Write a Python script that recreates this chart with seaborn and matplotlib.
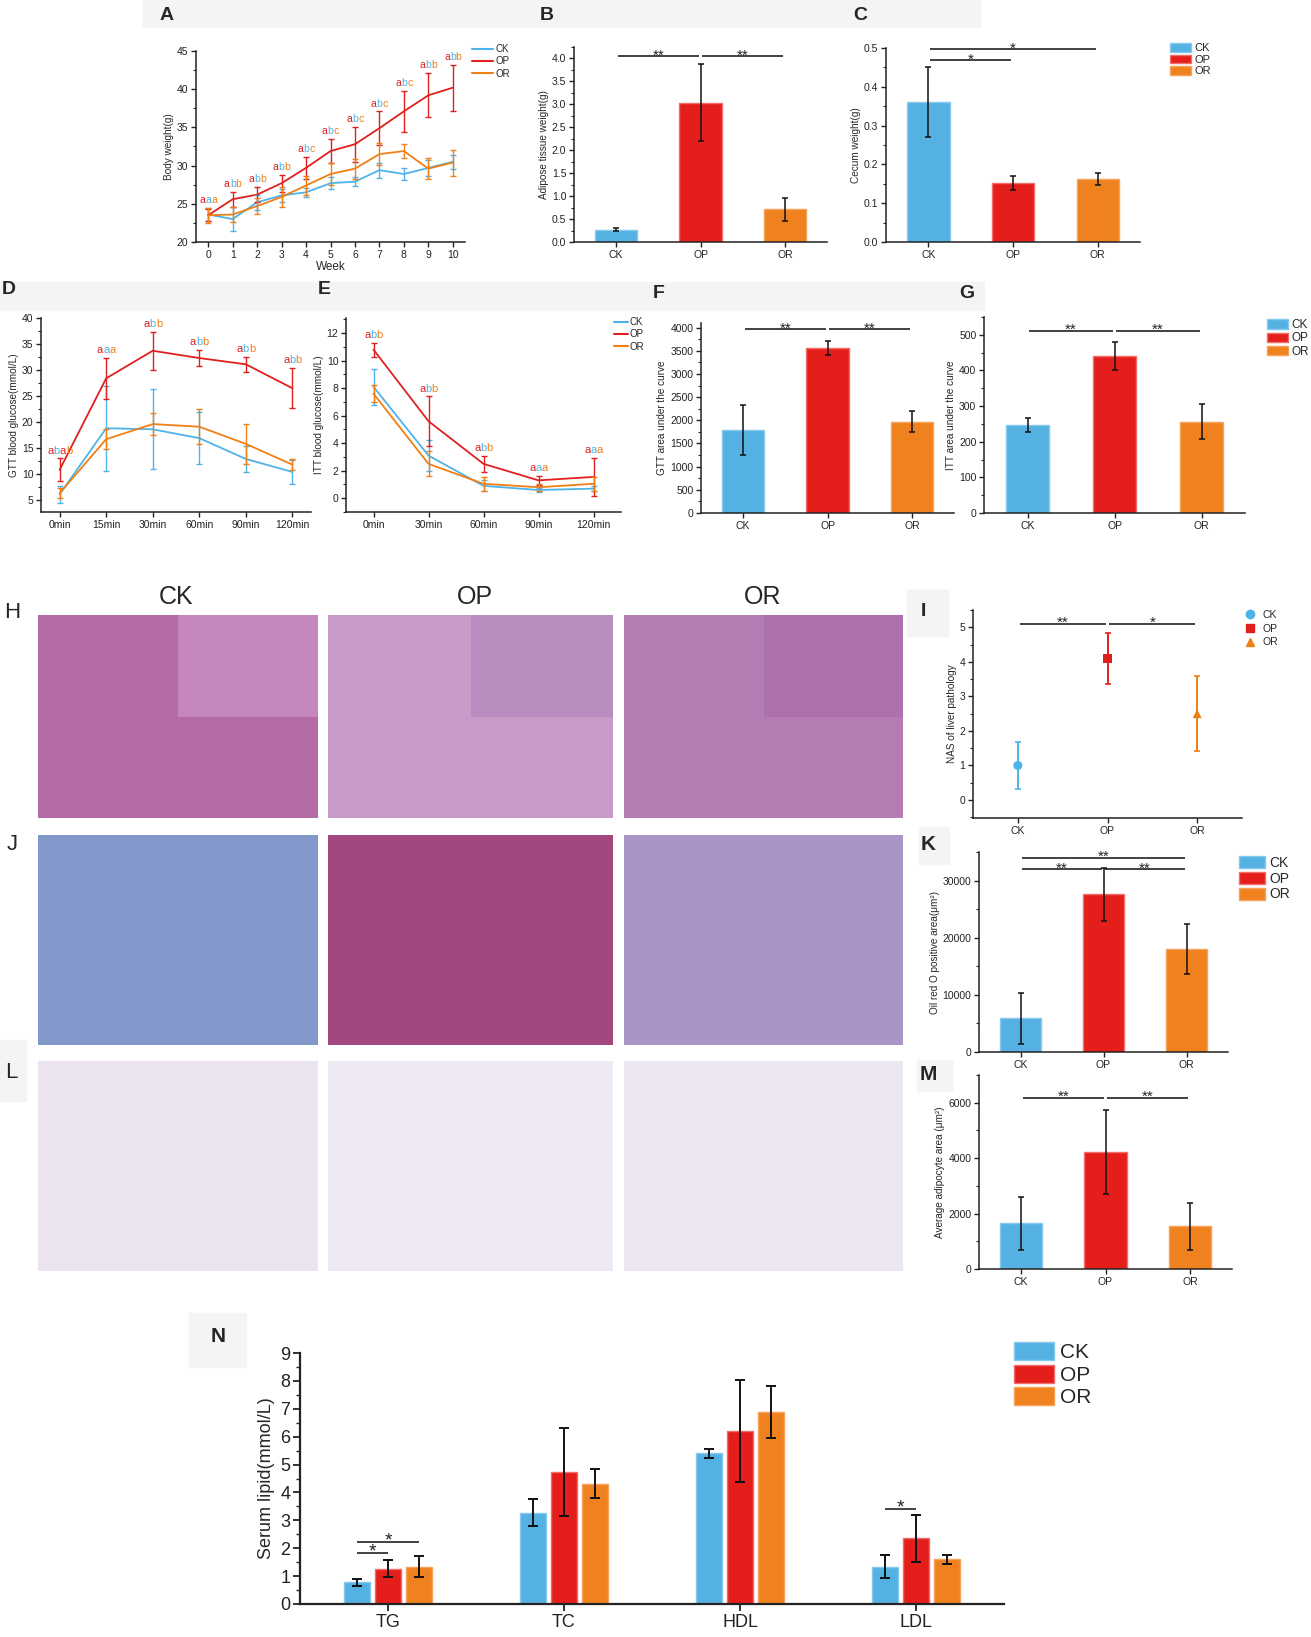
import matplotlib
matplotlib.use('Agg')
import matplotlib.pyplot as plt
import pandas as pd
import seaborn as sns
from matplotlib.lines import Line2D
from matplotlib.patches import Patch, Rectangle
from matplotlib.ticker import MultipleLocator
from matplotlib.transforms import offset_copy

W, H = 1311, 1637

# ---------------- data ----------------
groups = ['CK', 'OP', 'OR']

# A  body weight
weeks = [0, 1, 2, 3, 4, 5, 6, 7, 8, 9, 10]
bw_ck = [23.6, 23.0, 25.2, 26.1, 26.5, 27.7, 27.9, 29.4, 28.9, 29.7, 30.5]
bw_ck_err = [0.9, 1.6, 1.0, 0.8, 0.6, 0.8, 0.6, 1.0, 0.8, 1.0, 0.9]
bw_op = [23.5, 25.6, 26.2, 27.7, 29.7, 31.9, 32.8, 34.9, 37.1, 39.2, 40.2]
bw_op_err = [0.8, 1.0, 1.0, 1.1, 1.4, 1.6, 2.3, 2.2, 2.7, 2.9, 3.0]
bw_or = [23.5, 23.6, 24.7, 25.9, 27.4, 28.9, 29.6, 31.5, 31.9, 29.6, 30.4]
bw_or_err = [1.0, 1.0, 1.0, 1.3, 1.3, 1.5, 1.3, 1.4, 0.9, 1.4, 1.7]
bw_letters = ['aaa', 'abb', 'abb', 'abb', 'abc', 'abc', 'abc', 'abc', 'abc', 'abb', 'abb']

# B adipose tissue weight, C cecum weight
adipose = [0.27, 3.04, 0.71]
adipose_err = [0.04, 0.84, 0.25]
cecum = [0.361, 0.153, 0.163]
cecum_err = [0.090, 0.018, 0.016]

# D  GTT
gtt_times = ['0min', '15min', '30min', '60min', '90min', '120min']
gtt_ck = [6.1, 18.8, 18.6, 16.9, 12.9, 10.4]
gtt_ck_err = [1.65, 8.2, 7.7, 4.95, 2.5, 2.3]
gtt_op = [10.8, 28.4, 33.7, 32.3, 31.1, 26.5]
gtt_op_err = [2.2, 4.0, 3.7, 1.6, 1.45, 3.9]
gtt_or = [6.3, 16.7, 19.6, 19.1, 15.8, 11.8]
gtt_or_err = [0.95, 1.95, 2.1, 3.4, 3.85, 1.0]
gtt_letters = ['abab', 'aaa', 'abb', 'abb', 'abb', 'abb']

# E  ITT
itt_times = ['0min', '30min', '60min', '90min', '120min']
itt_ck = [8.1, 3.1, 0.9, 0.6, 0.7]
itt_ck_err = [1.3, 1.1, 0.4, 0.15, 0.2]
itt_op = [10.8, 5.6, 2.5, 1.3, 1.55]
itt_op_err = [0.5, 1.8, 0.6, 0.35, 1.38]
itt_or = [7.6, 2.5, 1.05, 0.8, 1.05]
itt_or_err = [0.6, 0.9, 0.5, 0.25, 0.5]
itt_letters = ['abb', 'abb', 'abb', 'aaa', 'aaa']

# F, G  area under the curve
gtt_auc = [1790, 3560, 1970]
gtt_auc_err = [530, 160, 225]
itt_auc = [246, 441, 256]
itt_auc_err = [20, 40, 49]

# I  NAS score, K oil red O area, M adipocyte area
nas = [1.0, 4.1, 2.5]
nas_err = [0.67, 0.73, 1.08]
oro_area = [5900, 27600, 18000]
oro_area_err = [4500, 4600, 4400]
adipocyte = [1650, 4230, 1540]
adipocyte_err = [950, 1510, 840]

# N  serum lipids
lipids = ['TG', 'TC', 'HDL', 'LDL']
lipid_ck = [0.78, 3.28, 5.40, 1.34]
lipid_ck_err = [0.12, 0.47, 0.15, 0.40]
lipid_op = [1.26, 4.73, 6.21, 2.36]
lipid_op_err = [0.30, 1.57, 1.82, 0.84]
lipid_or = [1.34, 4.32, 6.90, 1.60]
lipid_or_err = [0.38, 0.52, 0.93, 0.16]

# significance marks: (group a, group b, height, label)
sig_adipose = [('CK', 'OP', 4.05, '**'), ('OP', 'OR', 4.05, '**')]
sig_cecum = [('CK', 'OR', 0.497, '*'), ('CK', 'OP', 0.468, '*')]
sig_gtt_auc = [('CK', 'OP', 3960, '**'), ('OP', 'OR', 3960, '**')]
sig_itt_auc = [('CK', 'OP', 512, '**'), ('OP', 'OR', 512, '**')]
sig_nas = [('CK', 'OP', 5.1, '**'), ('OP', 'OR', 5.1, '*')]
sig_oro = [('CK', 'OR', 34000, '**'), ('CK', 'OP', 32000, '**'), ('OP', 'OR', 32000, '**')]
sig_adipocyte = [('CK', 'OP', 6180, '**'), ('OP', 'OR', 6180, '**')]
sig_lipid = [('TG', 'CK', 'OP', 1.83, '*'), ('TG', 'CK', 'OR', 2.24, '*'), ('LDL', 'CK', 'OP', 3.41, '*')]

# ---------------- style ----------------
line_colors = {'CK': '#4db3e8', 'OP': '#e0201f', 'OR': '#f07f15'}
bar_colors = {'CK': '#56b1e3', 'OP': '#e41f1b', 'OR': '#ef821e'}
bar_edges = {'CK': '#86c9ef', 'OP': '#f26d6a', 'OR': '#f5a35a'}
letter_cols3 = ['#e0201f', '#4db3e8', '#f07f15']
letter_cols4 = ['#e0201f', '#4db3e8', '#e0201f', '#f07f15']
stain_he = ['#b46aa7', '#c79ac8', '#b47cb2']
stain_he_inset = ['#c386bd', '#b98dc0', '#ac70ad']
stain_oro = ['#8398cb', '#a3477f', '#a995c5']
stain_adipo = ['#ebe3ef', '#efe9f3', '#ede7f2']
label_bg = '#f4f4f4'
narrow = ['Liberation Sans Narrow', 'Liberation Sans', 'DejaVu Sans']

sns.set_style('ticks')
plt.rcParams['font.family'] = ['Liberation Sans', 'DejaVu Sans']
plt.rcParams['axes.linewidth'] = 1.1
plt.rcParams['axes.edgecolor'] = '#222222'

fig = plt.figure(figsize=(W / 100, H / 100), dpi=100)
fig.patch.set_facecolor('white')


def px_axes(l, t, r, b):
    return fig.add_axes([l / W, 1 - b / H, (r - l) / W, (b - t) / H])


def bg_box(l, t, r, b):
    fig.add_artist(Rectangle((l / W, 1 - b / H), (r - l) / W, (b - t) / H,
                             transform=fig.transFigure, color=label_bg, zorder=0))


def panel_letter(x, y, s, size=14, weight='bold', family=None):
    fig.text(x / W, 1 - y / H, s, ha='center', va='center', fontsize=size,
             fontweight=weight, family=family or plt.rcParams['font.family'])


def finish(ax, ylim, major, minor, ylabel, fs=7.5, xlim=None):
    ax.set_ylim(*ylim)
    if xlim:
        ax.set_xlim(*xlim)
    ax.yaxis.set_major_locator(MultipleLocator(major))
    ax.yaxis.set_minor_locator(MultipleLocator(minor))
    ax.tick_params(axis='both', which='major', direction='out', length=3.5, width=1,
                   labelsize=fs, colors='#222222', pad=2)
    ax.tick_params(axis='y', which='minor', direction='out', length=2, width=0.8)
    sns.despine(ax=ax)
    ax.set_ylabel(ylabel, fontsize=fs - 0.3, labelpad=2)
    ax.set_xlabel('')


def sig_line(ax, x0, x1, y, label, fs=11, shrink=0.02):
    ax.plot([x0 + shrink, x1 - shrink], [y, y], color='#333333', lw=1.3,
            solid_capstyle='butt', clip_on=False)
    tr = offset_copy(ax.transData, fig=fig, x=0, y=0.5, units='points')
    ax.text((x0 + x1) / 2, y, label, ha='center', va='center', fontsize=fs,
            color='#222222', transform=tr, clip_on=False)


def bar_panel(ax, means, errs, sigs, sig_fs=11):
    df = pd.DataFrame({'group': groups, 'value': means})
    sns.barplot(data=df, x='group', y='value', hue='group', palette=bar_colors,
                width=0.5, saturation=1, errorbar=None, legend=False, ax=ax)
    centers = {}
    for cont, g in zip(ax.containers, groups):
        for bar in cont:
            bar.set_edgecolor(bar_edges[g])
            bar.set_linewidth(1)
            centers[g] = bar.get_x() + bar.get_width() / 2
    ax.errorbar([centers[g] for g in groups], means, yerr=errs, fmt='none',
                ecolor='#111111', elinewidth=1.1, capsize=2.5, capthick=1.1, zorder=5)
    for a, b, y, lab in sigs:
        sig_line(ax, centers[a], centers[b], y, lab, fs=sig_fs)
    ax.set_xlim(-0.5, 2.5)


def letter_marks(ax, xs, tops, letters, fs, dy=2):
    for x, top, lab in zip(xs, tops, letters):
        cols = letter_cols4 if len(lab) == 4 else letter_cols3
        n = len(lab)
        for k, ch in enumerate(lab):
            tr = offset_copy(ax.transData, fig=fig, x=(k - (n - 1) / 2) * fs * 0.56,
                             y=dy, units='points')
            ax.text(x, top, ch, color=cols[k], ha='center', va='bottom',
                    fontsize=fs, transform=tr)


def line_panel(ax, xvals, means, errs, letters, fs_letters):
    df = pd.DataFrame({'x': xvals * 3,
                       'y': means[0] + means[1] + means[2],
                       'group': [g for g in groups for _ in xvals]})
    sns.lineplot(data=df, x='x', y='y', hue='group', palette=line_colors, lw=1.3,
                 sort=False, legend=False, ax=ax)
    xs = list(ax.lines[0].get_xdata())
    for g, m, e in zip(groups, means, errs):
        ax.errorbar(xs, m, yerr=e, fmt='none', ecolor=line_colors[g], elinewidth=1,
                    capsize=2, capthick=1, zorder=4)
    tops = [max(m[i] + e[i] for m, e in zip(means, errs)) for i in range(len(xs))]
    letter_marks(ax, xs, tops, letters, fs_letters)


def line_legend(x, y, fs, hl):
    handles = [Line2D([], [], color=line_colors[g], lw=1.5) for g in groups]
    fig.legend(handles, groups, loc='upper left', bbox_to_anchor=(x / W, 1 - y / H),
               frameon=False, fontsize=fs, borderpad=0, borderaxespad=0,
               handlelength=hl, handletextpad=0.2, labelspacing=0.25)


def patch_legend(x, y, fs, hl, hh, ls, family=None):
    handles = [Patch(facecolor=bar_colors[g], edgecolor=bar_edges[g], lw=1) for g in groups]
    fig.legend(handles, groups, loc='upper left', bbox_to_anchor=(x / W, 1 - y / H),
               frameon=False, borderpad=0, borderaxespad=0, handlelength=hl,
               handleheight=hh, handletextpad=0.3, labelspacing=ls,
               prop={'size': fs, 'family': family or plt.rcParams['font.family']})


# label backgrounds
bg_box(143, 0, 980, 27)
bg_box(0, 282, 984, 310)
bg_box(907, 590, 948, 636)
bg_box(919, 827, 949, 864)
bg_box(917, 1060, 952, 1091)
bg_box(189, 1313, 246, 1367)
bg_box(0, 1040, 26, 1101)

# ---------------- A ----------------
axA = px_axes(196, 51, 465, 242)
line_panel(axA, weeks, [bw_ck, bw_op, bw_or], [bw_ck_err, bw_op_err, bw_or_err],
           bw_letters, 7.5)
finish(axA, (20, 45), 5, 2.5, 'Body weight(g)', xlim=(-0.5, 10.5))
axA.xaxis.set_major_locator(MultipleLocator(1))
axA.set_xlabel('Week', fontsize=8.5, labelpad=1)
line_legend(472, 44, 7, 2.2)
panel_letter(167, 15, 'A')

# ---------------- B ----------------
axB = px_axes(574, 47, 827, 242)
bar_panel(axB, adipose, adipose_err, sig_adipose)
finish(axB, (0, 4.25), 0.5, 0.25, 'Adipose tissue weight(g)', xlim=(-0.5, 2.5))
panel_letter(547, 15, 'B')

# ---------------- C ----------------
axC = px_axes(886, 48, 1140, 242)
bar_panel(axC, cecum, cecum_err, sig_cecum)
finish(axC, (0, 0.5), 0.1, 0.05, 'Cecum weight(g)', xlim=(-0.5, 2.5))
patch_legend(1170, 43, 8, 1.9, 0.85, 0.12)
panel_letter(860, 15, 'C')

# ---------------- D ----------------
axD = px_axes(41, 318, 311, 512)
line_panel(axD, gtt_times, [gtt_ck, gtt_op, gtt_or],
           [gtt_ck_err, gtt_op_err, gtt_or_err], gtt_letters, 8)
finish(axD, (2.7, 40), 5, 2.5, 'GTT blood glucose(mmol/L)', xlim=(-0.4, 5.4))
panel_letter(9, 290, 'D')

# ---------------- E ----------------
axE = px_axes(346, 318, 621, 512)
line_panel(axE, itt_times, [itt_ck, itt_op, itt_or],
           [itt_ck_err, itt_op_err, itt_or_err], itt_letters, 8)
finish(axE, (-1, 13.1), 2, 1, 'ITT blood glucose(mmol/L)', xlim=(-0.5, 4.5))
line_legend(614, 317, 7, 1.4)
panel_letter(324, 290, 'E')

# ---------------- F ----------------
axF = px_axes(701, 323, 954, 513)
bar_panel(axF, gtt_auc, gtt_auc_err, sig_gtt_auc)
finish(axF, (0, 4100), 500, 250, 'GTT area under the curve', xlim=(-0.5, 2.5))
panel_letter(659, 294, 'F')

# ---------------- G ----------------
axG = px_axes(984, 317, 1245, 513)
bar_panel(axG, itt_auc, itt_auc_err, sig_itt_auc)
finish(axG, (0, 550), 100, 50, 'ITT area under the curve', xlim=(-0.5, 2.5))
patch_legend(1267, 319, 8.5, 1.8, 0.85, 0.12)
panel_letter(967, 294, 'G')

# ---------------- histology H, J, L ----------------
img_cols = [(38, 318), (328, 613), (624, 903)]
rows = [((615, 818), stain_he), ((835, 1045), stain_oro), ((1061, 1271), stain_adipo)]
for (t, b), colors in rows:
    for k, (l, r) in enumerate(img_cols):
        axi = px_axes(l, t, r, b)
        axi.set_facecolor(colors[k])
        axi.set_xticks([])
        axi.set_yticks([])
        for sp in axi.spines.values():
            sp.set_visible(False)
        if colors is stain_he:
            axi.add_patch(Rectangle((0.5, 0.5), 0.5, 0.5, transform=axi.transAxes,
                                    color=stain_he_inset[k], lw=0))
for g, cx in zip(groups, [176, 475, 763]):
    fig.text(cx / W, 1 - 597 / H, g, ha='center', va='center', fontsize=18, family=narrow)
panel_letter(12, 613, 'H', size=16, weight='normal', family=narrow)
panel_letter(12, 845, 'J', size=16, weight='normal', family=narrow)
panel_letter(11, 1073, 'L', size=16, weight='normal', family=narrow)

# ---------------- I ----------------
axI = px_axes(973, 610, 1242, 818)
sns.scatterplot(x=groups, y=nas, hue=groups, style=groups, palette=line_colors,
                markers={'CK': 'o', 'OP': 's', 'OR': '^'}, s=42, linewidth=0,
                legend=False, ax=axI)
xs_i = list(axI.collections[0].get_offsets()[:, 0])
for x, m, e, g in zip(xs_i, nas, nas_err, groups):
    axI.errorbar([x], [m], yerr=[e], fmt='none', ecolor=line_colors[g], elinewidth=1.4,
                 capsize=2.5, capthick=1.2)
pos_i = dict(zip(groups, xs_i))
for a, b, y, lab in sig_nas:
    sig_line(axI, pos_i[a], pos_i[b], y, lab)
finish(axI, (-0.52, 5.5), 1, 0.5, 'NAS of liver pathology', xlim=(-0.5, 2.5))
mk = {'CK': 'o', 'OP': 's', 'OR': '^'}
fig.legend([Line2D([], [], ls='none', marker=mk[g], color=line_colors[g], ms=6) for g in groups],
           groups, loc='upper left', bbox_to_anchor=(1244 / W, 1 - 610 / H), frameon=False,
           fontsize=7.5, borderpad=0, borderaxespad=0, handlelength=1.2,
           handletextpad=0.6, labelspacing=0.35)
panel_letter(923, 612, 'I')

# ---------------- K ----------------
axK = px_axes(979, 852, 1228, 1052)
bar_panel(axK, oro_area, oro_area_err, sig_oro)
finish(axK, (0, 35000), 10000, 5000, 'Oil red O positive area(μm²)', xlim=(-0.5, 2.5))
patch_legend(1239, 856, 10, 1.9, 0.95, 0.12)
panel_letter(928, 844, 'K', size=15)

# ---------------- M ----------------
axM = px_axes(979, 1075, 1232, 1269)
bar_panel(axM, adipocyte, adipocyte_err, sig_adipocyte)
finish(axM, (0, 7000), 2000, 1000, 'Average adipocyte area (μm²)', xlim=(-0.5, 2.5))
panel_letter(928, 1075, 'M', size=15)

# ---------------- N ----------------
axN = px_axes(300, 1353, 1004, 1604)
df_lipid = pd.DataFrame({'lipid': lipids * 3,
                         'value': lipid_ck + lipid_op + lipid_or,
                         'group': [g for g in groups for _ in lipids]})
sns.barplot(data=df_lipid, x='lipid', y='value', hue='group', palette=bar_colors,
            width=0.53, gap=0.15, saturation=1, errorbar=None, legend=False, ax=axN)
lipid_err = {'CK': lipid_ck_err, 'OP': lipid_op_err, 'OR': lipid_or_err}
lipid_val = {'CK': lipid_ck, 'OP': lipid_op, 'OR': lipid_or}
bar_pos = {}
for cont, g in zip(axN.containers, groups):
    xs = []
    for bar, lip in zip(cont, lipids):
        bar.set_edgecolor(bar_edges[g])
        bar.set_linewidth(1)
        bar_pos[(lip, g)] = bar.get_x() + bar.get_width() / 2
        xs.append(bar_pos[(lip, g)])
    axN.errorbar(xs, lipid_val[g], yerr=lipid_err[g], fmt='none', ecolor='#111111',
                 elinewidth=1.4, capsize=3.5, capthick=1.4, zorder=5)
for lip, a, b, y, lab in sig_lipid:
    sig_line(axN, bar_pos[(lip, a)], bar_pos[(lip, b)], y, lab, fs=14, shrink=0)
finish(axN, (0, 9), 1, 0.5, '', xlim=(-0.5, 3.5))
axN.set_ylabel('Serum lipid(mmol/L)', fontsize=13, labelpad=4)
axN.tick_params(axis='both', which='major', length=5, width=1.3, labelsize=13)
axN.tick_params(axis='y', which='minor', length=3, width=1)
for lab in axN.get_xticklabels() + axN.get_yticklabels():
    lab.set_family(narrow)
for sp in axN.spines.values():
    sp.set_linewidth(1.6)
patch_legend(1014, 1342, 15, 1.9, 0.95, 0.12, family=narrow)
panel_letter(218, 1337, 'N', size=15, weight='bold', family=narrow)

fig.savefig('out.png', dpi=100, facecolor='white')
